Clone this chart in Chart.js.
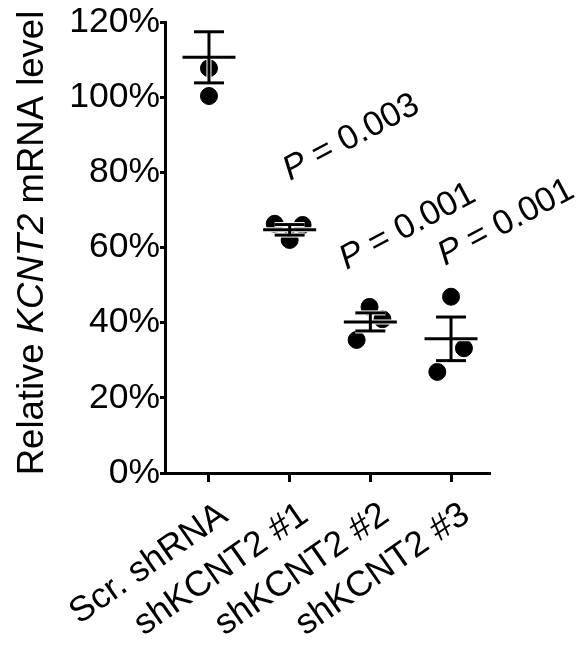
<!DOCTYPE html>
<html>
<head>
<meta charset="utf-8">
<script src="https://cdn.jsdelivr.net/npm/chart.js@4.4.1/dist/chart.umd.min.js"></script>
<style>
  html, body { margin: 0; padding: 0; background: #fff; }
  #wrap { width: 579px; height: 645px; }
</style>
</head>
<body>
<div id="wrap"><canvas id="myChart"></canvas></div>
<script>
//** DATA */
const groups = ['Scr. shRNA', 'shKCNT2 #1', 'shKCNT2 #2', 'shKCNT2 #3'];
// replicate values (% of control)
const scrValues = [100.3, 107.7, 124.0];
const sh1Values = [66.3, 66.0, 62.0];
const sh2Values = [44.2, 40.9, 35.4];
const sh3Values = [46.9, 33.2, 26.9];
// horizontal scatter of the replicates, in category units
const scrJitter = [0, 0, 0];
const sh1Jitter = [-0.185, 0.16, 0];
const sh2Jitter = [-0.01, 0.15, -0.17];
const sh3Jitter = [0, 0.16, -0.17];
// mean +/- SEM
const means = [110.6, 64.7, 40.2, 35.7];
const sems = [6.8, 1.4, 2.4, 5.8];
const pValues = ['', '0.003', '0.001', '0.001'];
const yTicks = [0, 20, 40, 60, 80, 100, 120];

const FONT = "'Liberation Sans', Arial, Helvetica, sans-serif";
const ctx = document.getElementById('myChart');

function toPoints(values, jitter, idx) {
  return values.map((v, i) => ({ x: idx + jitter[i], y: v }));
}

var allPoints = []
  .concat(toPoints(scrValues, scrJitter, 0))
  .concat(toPoints(sh1Values, sh1Jitter, 1))
  .concat(toPoints(sh2Values, sh2Jitter, 2))
  .concat(toPoints(sh3Values, sh3Jitter, 3));

//** MEAN + SEM BARS, drawn on top of the dots with a thin white halo */
const errorBars = {
  id: 'errorBars',
  afterDatasetsDraw(chart) {
    const c = chart.ctx;
    const x = chart.scales.x, y = chart.scales.y;
    var segs = [];
    means.forEach((m, i) => {
      const cx = x.getPixelForValue(i);
      const yMean = y.getPixelForValue(m);
      const yTop = y.getPixelForValue(m + sems[i]);
      const yBot = y.getPixelForValue(m - sems[i]);
      segs.push([cx, yTop, cx, yBot]);
      segs.push([cx - 26.5, yMean, cx + 26.5, yMean]);
      segs.push([cx - 15, yTop, cx + 15, yTop]);
      segs.push([cx - 15, yBot, cx + 15, yBot]);
    });
    c.save();
    [['#ffffff', 5], ['#000000', 3]].forEach(([col, w]) => {
      c.strokeStyle = col;
      c.lineWidth = w;
      segs.forEach(s => {
        c.beginPath();
        c.moveTo(s[0], s[1]);
        c.lineTo(s[2], s[3]);
        c.stroke();
      });
    });
    c.restore();
  }
};

//** P VALUE LABELS AND Y TITLE (mixed italic text) */
// anchor of each label: category offset and value of the baseline start
const pAnchor = [null, [0.005, 77.7], [-0.295, 54.0], [-0.075, 55.1]];

function drawMixed(c, parts, size) {
  var dx = 0;
  parts.forEach(p => {
    c.font = (p[1] ? 'italic ' : '') + size + 'px ' + FONT;
    c.fillText(p[0], dx, 0);
    dx += c.measureText(p[0]).width;
  });
}
function mixedWidth(c, parts, size) {
  var w = 0;
  parts.forEach(p => {
    c.font = (p[1] ? 'italic ' : '') + size + 'px ' + FONT;
    w += c.measureText(p[0]).width;
  });
  return w;
}

const textLabels = {
  id: 'textLabels',
  afterDraw(chart) {
    const c = chart.ctx;
    const x = chart.scales.x, y = chart.scales.y;
    c.save();
    c.fillStyle = '#000';
    c.textAlign = 'left';
    c.textBaseline = 'alphabetic';
    pValues.forEach((p, i) => {
      if (!p) return;
      const px = x.getPixelForValue(i + pAnchor[i][0]);
      const py = y.getPixelForValue(pAnchor[i][1]);
      c.save();
      c.translate(px, py);
      c.rotate(-28 * Math.PI / 180);
      drawMixed(c, [['P', true], [' = ' + p, false]], 34.5);
      c.restore();
    });
    // y axis title
    const title = [['Relative ', false], ['KCNT2', true], [' mRNA level', false]];
    const w = mixedWidth(c, title, 36.5);
    c.translate(43, 243 + w / 2);
    c.rotate(-Math.PI / 2);
    drawMixed(c, title, 36.5);
    c.restore();
  }
};

const config = {
  type: 'scatter',
  data: {
    datasets: [
      {
        data: allPoints,
        backgroundColor: '#000',
        borderColor: '#000',
        borderWidth: 1,
        pointRadius: 8.5,
        pointHoverRadius: 8.5,
        clip: 0,
      },
    ],
  },
  options: {
    responsive: true,
    maintainAspectRatio: false,
    animation: false,
    events: [],
    layout: { padding: { left: 0, top: 22, right: 89, bottom: 0 } },
    plugins: {
      legend: { display: false },
      tooltip: { enabled: false },
    },
    scales: {
      x: {
        type: 'linear',
        min: -0.545,
        max: 3.483,
        afterBuildTicks: (scale) => {
          scale.ticks = groups.map((g, i) => ({ value: i }));
        },
        afterFit: (scale) => { scale.height = 172; },
        ticks: {
          autoSkip: false,
          minRotation: 35,
          maxRotation: 35,
          padding: 12,
          labelOffset: 15,
          color: '#000',
          font: { family: FONT, size: 35.5 },
          callback: (v) => groups[v],
        },
        grid: {
          drawOnChartArea: false,
          drawTicks: true,
          tickLength: 9,
          tickWidth: 3,
          tickColor: '#000',
        },
        border: { display: true, color: '#000', width: 3 },
      },
      y: {
        min: 0,
        max: 120,
        afterBuildTicks: (scale) => {
          scale.ticks = yTicks.map(v => ({ value: v }));
        },
        afterFit: (scale) => { scale.width = 165; },
        ticks: {
          padding: 0,
          color: '#000',
          font: { family: FONT, size: 35.5 },
          callback: (v) => v + '%',
        },
        grid: {
          drawOnChartArea: false,
          drawTicks: true,
          tickLength: 5,
          tickWidth: 3,
          tickColor: '#000',
        },
        border: { display: true, color: '#000', width: 3 },
      },
    },
  },
  plugins: [errorBars, textLabels],
};

const chart = new Chart(ctx, config);
</script>
</body>
</html>
